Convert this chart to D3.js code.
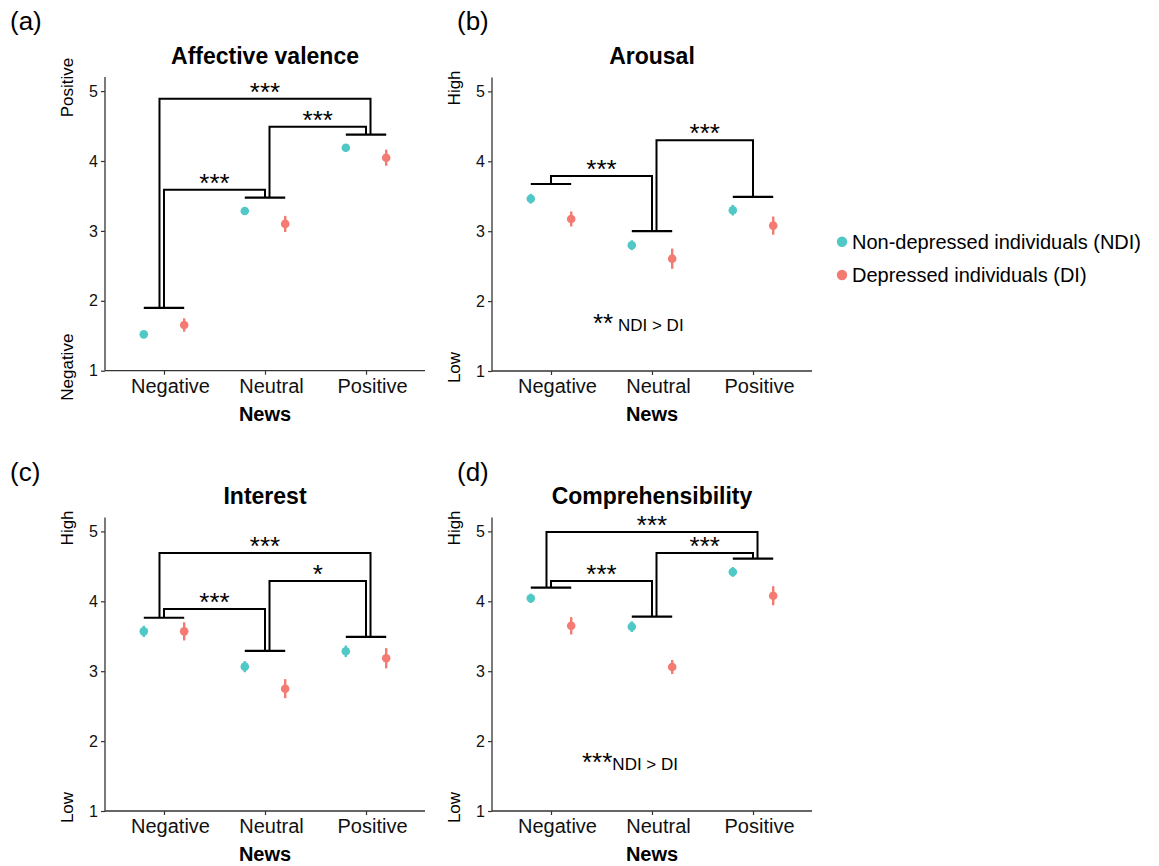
<!DOCTYPE html>
<html>
<head>
<meta charset="utf-8">
<script src="https://cdn.jsdelivr.net/npm/d3@7"></script>
<style>
  body { margin: 0; background: #fff; }
  svg { font-family: "Liberation Sans", Arial, sans-serif; }
</style>
</head>
<body>
<svg id="chart" width="1159" height="866"></svg>
<script>
// 데이터
const categories = ["Negative", "Neutral", "Positive"];
const groups = ["Non-depressed individuals (NDI)", "Depressed individuals (DI)"];
const panelTitles = ["Affective valence", "Arousal", "Interest", "Comprehensibility"];
const panelTags = ["(a)", "(b)", "(c)", "(d)"];
const yTicks = [1, 2, 3, 4, 5];
const axisEnds = [["Positive", "Negative"], ["High", "Low"], ["High", "Low"], ["High", "Low"]];

// 평균값 (panel x category)
const ndiMeans = [[1.52, 3.285, 4.19], [3.465, 2.80, 3.30], [3.57, 3.065, 3.285], [4.043, 3.637, 4.42]];
const ndiErr = [[0.03, 0.03, 0.03], [0.07, 0.07, 0.076], [0.08, 0.08, 0.083], [0.067, 0.076, 0.07]];
const diMeans = [[1.654, 3.10, 4.047], [3.175, 2.607, 3.08], [3.57, 2.75, 3.185], [3.65, 3.06, 4.08]];
const diErr = [[0.096, 0.115, 0.115], [0.107, 0.145, 0.13], [0.13, 0.136, 0.145], [0.124, 0.10, 0.136]];

// 유의성 bracket: 각 category 위의 가로 막대 높이, [from, to, top, label]
const barLevels = [[1.90, 3.475, 4.376], [3.675, 3.0, 3.49], [3.765, 3.29, 3.49], [4.195, 3.78, 4.61]];
const brackets = [
    [[0, 1, 3.59, "***"], [1, 2, 4.49, "***"], [0, 2, 4.89, "***"]],
    [[0, 1, 3.79, "***"], [1, 2, 4.30, "***"]],
    [[0, 1, 3.89, "***"], [1, 2, 4.29, "*"], [0, 2, 4.69, "***"]],
    [[0, 1, 4.29, "***"], [1, 2, 4.69, "***"], [0, 2, 4.99, "***"]]
];
const groupNotes = [null, ["**", " NDI > DI", 1.57], null, ["***", "NDI > DI", 1.59]];

const colors = ["#50C9C6", "#F47A72"];

// 패널 배치
const panels = [
    { left: 105, bottom: 370.7, tagX: 10, tagY: 30, noteX: 0 },
    { left: 492, bottom: 371, tagX: 457, tagY: 30, noteX: 101 },
    { left: 105, bottom: 811, tagX: 10, tagY: 481, noteX: 0 },
    { left: 492, bottom: 811, tagX: 457, tagY: 481, noteX: 90 }
];
const plotWidth = 320;
const unit = 69.9;

const svg = d3.select("#chart");

panels.forEach((p, pi) => {
    const x = d3.scalePoint().domain(categories).range([p.left, p.left + plotWidth]).padding(0.584);
    const y = d3.scaleLinear().domain([1, 5.2]).range([p.bottom, p.bottom - 4.2 * unit]);
    const dodge = x.step() * 0.2;
    const g = svg.append("g");

    // panel tag
    g.append("text")
        .attr("x", p.tagX).attr("y", p.tagY)
        .attr("font-size", 26)
        .text(panelTags[pi]);

    // title
    g.append("text")
        .attr("x", p.left + plotWidth / 2).attr("y", p.bottom - 307)
        .attr("text-anchor", "middle")
        .attr("font-size", 23).attr("font-weight", "bold")
        .text(panelTitles[pi]);

    // Y 축
    const yAxis = g.append("g")
        .attr("transform", `translate(${p.left},0)`)
        .call(d3.axisLeft(y).tickValues(yTicks).tickSize(4).tickPadding(3).tickFormat(d3.format("d")));
    yAxis.select(".domain").attr("stroke", "#333").attr("stroke-width", 1.3).attr("d", `M0,${y(5.2)}V${y(1)}`);
    yAxis.selectAll(".tick line").attr("stroke", "#333").attr("stroke-width", 1.2);
    yAxis.selectAll(".tick text").attr("font-size", 16).attr("fill", "#111").attr("font-family", null);

    // X 축
    const xAxis = g.append("g")
        .attr("transform", `translate(0,${p.bottom})`)
        .call(d3.axisBottom(x).tickSize(4).tickPadding(4));
    xAxis.select(".domain").attr("stroke", "#333").attr("stroke-width", 1.3).attr("d", `M${p.left},0H${p.left + plotWidth}`);
    xAxis.selectAll(".tick line").attr("stroke", "#333").attr("stroke-width", 1.2);
    xAxis.selectAll(".tick text").attr("font-size", 20).attr("fill", "#111").attr("font-family", null).attr("dx", 6);

    g.append("text")
        .attr("x", p.left + plotWidth / 2).attr("y", p.bottom + 50)
        .attr("text-anchor", "middle")
        .attr("font-size", 20).attr("font-weight", "bold")
        .text("News");

    // 양끝 라벨 (High / Low)
    [5, 1].forEach((v, k) => {
        g.append("text")
            .attr("transform", `translate(${p.left - 32},${y(v) - 3.5}) rotate(-90)`)
            .attr("text-anchor", "middle")
            .attr("font-size", 17)
            .text(axisEnds[pi][k]);
    });

    // error bar + 점
    const series = [
        { means: ndiMeans[pi], errs: ndiErr[pi], off: -dodge, color: colors[0] },
        { means: diMeans[pi], errs: diErr[pi], off: dodge, color: colors[1] }
    ];
    series.forEach(s => {
        const pts = categories.map((c, i) => ({ c: c, m: s.means[i], e: s.errs[i] }));
        g.selectAll(null).data(pts).enter().append("line")
            .attr("x1", d => x(d.c) + s.off).attr("x2", d => x(d.c) + s.off)
            .attr("y1", d => y(d.m - d.e)).attr("y2", d => y(d.m + d.e))
            .attr("stroke", s.color).attr("stroke-width", 2.4);
        g.selectAll(null).data(pts).enter().append("circle")
            .attr("cx", d => x(d.c) + s.off)
            .attr("cy", d => y(d.m))
            .attr("r", 4.3)
            .attr("fill", s.color);
    });

    // bracket
    const levels = barLevels[pi];
    categories.forEach((c, i) => {
        g.append("line")
            .attr("x1", x(c) - dodge).attr("x2", x(c) + dodge)
            .attr("y1", y(levels[i])).attr("y2", y(levels[i]))
            .attr("stroke", "#000").attr("stroke-width", 2.2);
    });
    brackets[pi].forEach(b => {
        const [from, to, top, label] = b;
        const wide = (to - from) > 1;
        const offL = wide ? -4.5 : (from === 1 ? 4.5 : 0);
        const offR = wide ? 4.5 : 0;
        const xl = x(categories[from]) + offL;
        const xr = x(categories[to]) + offR;
        g.append("path")
            .attr("d", `M${xl},${y(levels[from])}V${y(top)}H${xr}V${y(levels[to])}`)
            .attr("fill", "none").attr("stroke", "#000").attr("stroke-width", 2);
        g.append("text")
            .attr("x", (xl + xr) / 2).attr("y", y(top) + 2)
            .attr("text-anchor", "middle")
            .attr("font-size", 26)
            .text(label);
    });

    // 그룹 차이 주석
    const note = groupNotes[pi];
    if (note) {
        const t = g.append("text")
            .attr("x", p.left + p.noteX).attr("y", y(note[2]))
            .attr("xml:space", "preserve");
        t.append("tspan").attr("font-size", 26).attr("dy", 1).text(note[0]);
        t.append("tspan").attr("font-size", 17).attr("dy", -1).text(note[1]);
    }
});

// 범례
const legend = svg.append("g").attr("transform", "translate(842,241.7)");
groups.forEach((name, i) => {
    const row = legend.append("g").attr("transform", `translate(0,${i * 33.3})`);
    row.append("circle").attr("r", 5.2).attr("fill", colors[i]);
    row.append("text").attr("x", 10).attr("y", 7).attr("font-size", 20).text(name);
});
</script>
</body>
</html>
